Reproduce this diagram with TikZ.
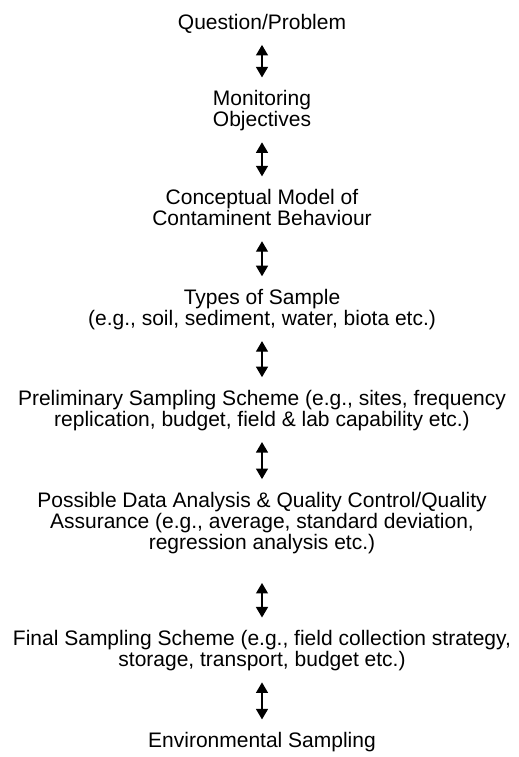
\documentclass[tikz,border=0pt]{standalone}
\usepackage{fontspec}
\setmainfont{Liberation Sans}
\usetikzlibrary{arrows.meta, positioning}
\newcommand{\stagefont}{\fontsize{21bp}{21bp}\selectfont\lineskiplimit-20pt\relax}

\begin{document}
\begin{tikzpicture}[
    every node/.style={font=\stagefont},
    stage/.style={align=center, inner sep=0pt, execute at begin node=\strut, execute at end node=\strut},
    arrow/.style={{Triangle[width=12bp,length=10.5bp]}-{Triangle[width=12bp,length=10.5bp]}, line width=1.3bp, shorten <=9bp, shorten >=13bp}
]
\useasboundingbox (0,0) rectangle (519bp,-757bp);

% --- Stages ---
\node[stage, anchor=north] (question) at (262bp,-14bp) {Question/Problem};
\node[stage, below=54.5bp of question] (objectives) {Monitoring\\Objectives};
\node[stage, below=56bp of objectives] (model) {Conceptual Model of\\Contaminent Behaviour};
\node[stage, below=57bp of model] (types) {Types of Sample\\(e.g., soil, sediment, water, biota etc.)};
\node[stage, below=58bp of types] (prelim) {Preliminary Sampling Scheme (e.g., sites, frequency\\replication, budget, field \& lab capability etc.)};
\node[stage, below=59bp of prelim] (analysis) {Possible Data Analysis \& Quality Control/Quality\\Assurance (e.g., average, standard deviation,\\regression analysis etc.)};
\node[stage, below=74.5bp of analysis] (final) {Final Sampling Scheme (e.g., field collection strategy,\\storage, transport, budget etc.)};
\node[stage, below=59bp of final] (sampling) {Environmental Sampling};

% --- Connections ---
\draw[arrow] (question) -- (objectives);
\draw[arrow] (objectives) -- (model);
\draw[arrow] (model) -- (types);
\draw[arrow] (types) -- (prelim);
\draw[arrow] (prelim) -- (analysis);
\draw[arrow, shorten <=27bp] (analysis) -- (final);
\draw[arrow] (final) -- (sampling);

\end{tikzpicture}
\end{document}
